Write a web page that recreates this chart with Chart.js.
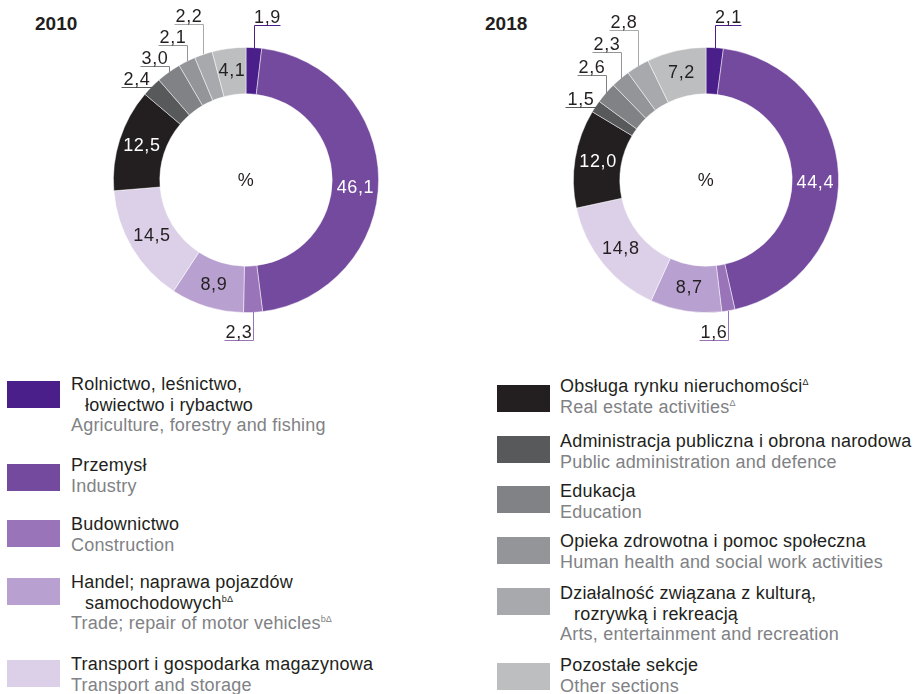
<!DOCTYPE html>
<html>
<head>
<meta charset="utf-8">
<script src="https://cdn.jsdelivr.net/npm/chart.js@4"></script>
<style>
  html, body { margin: 0; padding: 0; background: #fff; }
  body { width: 917px; height: 694px; position: relative; overflow: hidden;
         font-family: "Liberation Sans", Arial, sans-serif; color: #231f20; }
  .box { position: absolute; top: 0; height: 360px; }
  .title { position: absolute; top: 13px; font-weight: bold; font-size: 19px; }
  .sw { position: absolute; width: 53px; height: 27px; }
  .txt { position: absolute; font-size: 18px; line-height: 20.5px; letter-spacing: 0.2px; white-space: nowrap; }
  .txt .en { color: #808285; }
  .txt .cont { padding-left: 14px; }
  .txt sup { font-size: 9px; vertical-align: 7px; line-height: 0; }
</style>
</head>
<body>
<div class="title" style="left:35px">2010</div>
<div class="title" style="left:485px">2018</div>
<div class="box" style="left:0;width:460px"><canvas id="c2010"></canvas></div>
<div class="box" style="left:460px;width:457px"><canvas id="c2018"></canvas></div>
<div id="legend"></div>
<script>
var sectorsPl = [
    "Rolnictwo, leśnictwo,\nłowiectwo i rybactwo",
    "Przemysł",
    "Budownictwo",
    "Handel; naprawa pojazdów\nsamochodowych",
    "Transport i gospodarka magazynowa",
    "Obsługa rynku nieruchomości",
    "Administracja publiczna i obrona narodowa",
    "Edukacja",
    "Opieka zdrowotna i pomoc społeczna",
    "Działalność związana z kulturą,\nrozrywką i rekreacją",
    "Pozostałe sekcje"
];
var sectorsEn = [
    "Agriculture, forestry and fishing",
    "Industry",
    "Construction",
    "Trade; repair of motor vehicles",
    "Transport and storage",
    "Real estate activities",
    "Public administration and defence",
    "Education",
    "Human health and social work activities",
    "Arts, entertainment and recreation",
    "Other sections"
];
var footnotes = ["", "", "", "bΔ", "", "Δ", "", "", "", "", ""];

var values2010 = [1.9, 46.1, 2.3, 8.9, 14.5, 12.5, 2.4, 3.0, 2.1, 2.2, 4.1];
var values2018 = [2.1, 44.4, 1.6, 8.7, 14.8, 12.0, 1.5, 2.6, 2.3, 2.8, 7.2];

var colors = ["#4b1f8a", "#744a9f", "#9a74b9", "#b8a0d0", "#dcd0e8",
              "#231f20", "#58595b", "#808285", "#939598", "#a7a9ac", "#bcbec0"];

// label layout: small slices get a leader line, y is relative to the centre
var callouts2010 = {
    0: { dir: "right", y: -155 },
    2: { dir: "left", y: 160 },
    6: { dir: "side" },
    7: { dir: "left", y: -114 },
    8: { dir: "left", y: -135 },
    9: { dir: "left", y: -156 }
};
var callouts2018 = {
    0: { dir: "right", y: -155 },
    2: { dir: "left", y: 160 },
    6: { dir: "side" },
    7: { dir: "left", y: -105 },
    8: { dir: "left", y: -128 },
    9: { dir: "left", y: -150 }
};
var whiteText = [1, 5];
var FONT = '18px "Liberation Sans", Arial, sans-serif';

function fmt(v) { return v.toFixed(1).replace(".", ","); }

var labelPlugin = {
    id: "sliceLabels",
    afterDatasetsDraw: function (chart, args, opts) {
        var ctx = chart.ctx;
        var meta = chart.getDatasetMeta(0);
        var data = chart.data.datasets[0].data;
        var cx = 0, cy = 0;
        ctx.save();
        ctx.font = FONT;
        ctx.letterSpacing = "0.6px";
        ctx.textAlign = "center";
        meta.data.forEach(function (arc, i) {
            var p = arc.getProps(["x", "y", "startAngle", "endAngle", "innerRadius", "outerRadius"], true);
            cx = p.x; cy = p.y;
            var text = fmt(data[i]);
            var c = opts.callouts[i];
            if (!c) {
                var mid = arc.getCenterPoint(true);
                var dy = i === 1 ? 8 : 0;
                ctx.fillStyle = whiteText.indexOf(i) >= 0 ? "#ffffff" : "#231f20";
                ctx.textBaseline = "middle";
                ctx.fillText(text, mid.x, mid.y + dy);
                return;
            }
            var a = (p.startAngle + p.endAngle) / 2;
            var ax = Math.round(p.x + Math.cos(a) * p.outerRadius) + 0.5;
            var ay = Math.round(p.y + Math.sin(a) * p.outerRadius);
            var len = 29, ey, ex;
            ctx.strokeStyle = colors[i];
            ctx.lineWidth = 1;
            ctx.beginPath();
            if (c.dir === "side") {
                ey = ay + 0.5;
                ex = ax - len - 2;
                ctx.moveTo(ax, ey);
                ctx.lineTo(ex, ey);
            } else {
                ey = Math.round(p.y + c.y) + 0.5;
                ex = c.dir === "right" ? ax + len - 3 : ax - len;
                ctx.moveTo(ax, ay);
                ctx.lineTo(ax, ey);
                ctx.lineTo(ex, ey);
            }
            ctx.stroke();
            ctx.fillStyle = "#231f20";
            ctx.textBaseline = "alphabetic";
            ctx.fillText(text, (ax + ex) / 2, ey - 3);
        });
        ctx.textBaseline = "middle";
        ctx.fillStyle = "#231f20";
        ctx.fillText("%", cx, cy + 1);
        ctx.restore();
    }
};

function makeDoughnut(id, values, callouts, padRight) {
    return new Chart(document.getElementById(id), {
        type: "doughnut",
        data: {
            labels: sectorsEn,
            datasets: [{
                data: values,
                backgroundColor: colors,
                borderColor: "rgba(255,255,255,0.6)",
                borderWidth: 0.8
            }]
        },
        options: {
            responsive: true,
            maintainAspectRatio: false,
            animation: false,
            cutout: "65%",
            layout: { padding: { left: 113, right: padRight, top: 47, bottom: 47 } },
            plugins: {
                legend: { display: false },
                tooltip: { enabled: false },
                sliceLabels: { callouts: callouts }
            }
        },
        plugins: [labelPlugin]
    });
}

makeDoughnut("c2010", values2010, callouts2010, 81);
makeDoughnut("c2018", values2018, callouts2018, 78);

// legend, two columns
var legendCols = [
    { x: 7, textX: 71, items: [0, 1, 2, 3, 4], swTop: [381, 464, 520, 578, 660], txtTop: [374, 455, 514, 572, 654] },
    { x: 497, textX: 560, items: [5, 6, 7, 8, 9, 10], swTop: [385, 436, 486, 537, 588, 663], txtTop: [376, 431, 481, 531, 583, 655] }
];

function escapeHtml(s) {
    var d = document.createElement("div");
    d.appendChild(document.createTextNode(s));
    return d.innerHTML;
}

var legend = document.getElementById("legend");
legendCols.forEach(function (col) {
    col.items.forEach(function (idx, k) {
        var sw = document.createElement("div");
        sw.className = "sw";
        sw.style.left = col.x + "px";
        sw.style.top = col.swTop[k] + "px";
        sw.style.background = colors[idx];
        legend.appendChild(sw);

        var t = document.createElement("div");
        t.className = "txt";
        t.style.left = col.textX + "px";
        t.style.top = col.txtTop[k] + "px";
        var sup = footnotes[idx] ? "<sup>" + footnotes[idx] + "</sup>" : "";
        var lines = sectorsPl[idx].split("\n");
        var html = lines.map(function (l, j) {
            var s = escapeHtml(l) + (j === lines.length - 1 ? sup : "");
            return "<div" + (j > 0 ? ' class="cont"' : "") + ">" + s + "</div>";
        }).join("");
        html += '<div class="en">' + escapeHtml(sectorsEn[idx]) + sup + "</div>";
        t.innerHTML = html;
        legend.appendChild(t);
    });
});
</script>
</body>
</html>
